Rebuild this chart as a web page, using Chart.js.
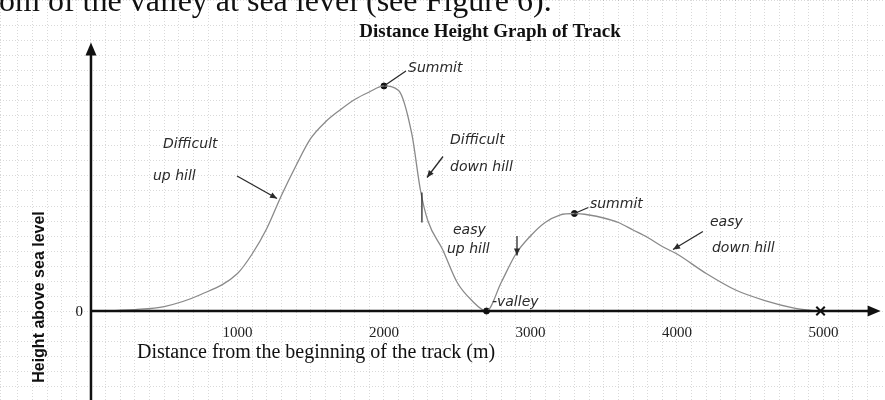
<!DOCTYPE html>
<html>
<head>
<meta charset="utf-8">
<script src="https://cdn.jsdelivr.net/npm/chart.js@4.4.1/dist/chart.umd.min.js"></script>
<style>
  html, body { margin: 0; padding: 0; background: #fff; }
  #wrap { position: relative; width: 885px; height: 400px; }
</style>
</head>
<body>
<div id="wrap"><canvas id="myChart" width="885" height="400"></canvas></div>
<script>
// Datos del perfil (distancia en m, altura)
const distancias = [0, 300, 500, 750, 1000, 1100, 1200, 1300, 1400, 1500, 1600, 1700, 1800, 1900, 2000, 2100, 2190, 2250, 2300, 2400, 2500, 2600, 2700, 2800, 2900, 3000, 3100, 3200, 3300, 3400, 3500, 3600, 3700, 3800, 3900, 4000, 4200, 4400, 4600, 4800, 4950];
const alturas = [0, 1, 3, 11, 25, 38, 55, 77, 97, 115, 126, 134, 141, 146, 150, 147, 118, 80, 60, 41, 19, 7, 0, 19, 38, 50, 59, 64, 65, 64, 62, 59, 54, 49, 43, 38, 25, 14, 7, 2, 0];

// Puntos marcados (cimas y valle)
const puntosX = [2000, 3300, 2700];
const puntosY = [150, 65, 0];
const cruzX = [4980];
const cruzY = [0];

// Etiquetas de los ejes
const etiquetasX = [1000, 2000, 3000, 4000, 5000];
const etiquetasY = [0];

// Rango de los ejes
const rangoX = [-621, 5420];
const rangoY = [-59.3, 207.3];
const finEjeX = 5390;
const finEjeY = 179;

// Notas escritas a mano
const notasTexto = ["Summit", "Difficult", "up hill", "Difficult", "down hill", "easy", "up hill", "summit", "easy", "down hill", "-valley"];
const notasX = [2164, 491, 423, 2451, 2451, 2471, 2430, 3406, 4225, 4239, 2737];
const notasY = [162, 111, 90, 114, 96, 54, 41, 71, 59, 42, 6];

// Flechas [x1, y1, x2, y2]
const flechas = [
  [997, 90, 1270, 75],
  [2403, 103, 2294, 89],
  [2908, 50, 2908, 37],
  [4177, 53, 3973, 41],
];
// Trazos sin punta
const trazos = [
  [2000, 150, 2150, 160],
  [3300, 65, 3395, 69],
  [2259, 79, 2259, 59],
];

const chartDom = document.getElementById("myChart");
let myChart;

function crearPares(xs, ys) {
  return xs.map((x, i) => ({ x, y: ys[i] }));
}

// Quitar el espacio que reservan los ejes
function sinEspacio(scale) {
  if (scale.isHorizontal()) scale.height = 0;
  else scale.width = 0;
  scale.paddingLeft = 0;
  scale.paddingRight = 0;
  scale.paddingTop = 0;
  scale.paddingBottom = 0;
}

function punta(ctx, x1, y1, x2, y2, largo, ancho) {
  const ang = Math.atan2(y2 - y1, x2 - x1);
  ctx.beginPath();
  ctx.moveTo(x2, y2);
  ctx.lineTo(x2 - largo * Math.cos(ang) + ancho * Math.sin(ang), y2 - largo * Math.sin(ang) - ancho * Math.cos(ang));
  ctx.lineTo(x2 - largo * Math.cos(ang) - ancho * Math.sin(ang), y2 - largo * Math.sin(ang) + ancho * Math.cos(ang));
  ctx.closePath();
  ctx.fill();
}

// Plugin: ejes con flechas, textos y notas
const dibujoExtra = {
  id: "dibujoExtra",
  afterDatasetsDraw(chart) {
    const { ctx, scales: { x, y }, chartArea } = chart;
    const x0 = x.getPixelForValue(0);
    const y0 = y.getPixelForValue(0);
    const xTip = x.getPixelForValue(finEjeX);
    const yTip = y.getPixelForValue(finEjeY);

    ctx.save();
    // ejes
    ctx.strokeStyle = "#111";
    ctx.fillStyle = "#111";
    ctx.lineWidth = 2.5;
    ctx.beginPath();
    ctx.moveTo(x0, y0);
    ctx.lineTo(xTip - 6, y0);
    ctx.stroke();
    ctx.beginPath();
    ctx.moveTo(x0, chartArea.bottom);
    ctx.lineTo(x0, yTip + 6);
    ctx.stroke();
    punta(ctx, x0, y0, xTip, y0, 13, 5.5);
    punta(ctx, x0, y0, x0, yTip, 13, 5.5);

    // etiqueta del eje y
    ctx.font = '15px "Liberation Serif"';
    ctx.textAlign = "right";
    ctx.textBaseline = "middle";
    etiquetasY.forEach((v) => ctx.fillText(String(v), x0 - 8, y.getPixelForValue(v) + 1));

    // notas a mano
    ctx.fillStyle = "#2a2a2a";
    ctx.strokeStyle = "#2a2a2a";
    ctx.lineWidth = 1.3;
    ctx.font = 'italic 14px "DejaVu Sans"';
    ctx.textAlign = "left";
    notasTexto.forEach((t, i) => {
      ctx.fillText(t, x.getPixelForValue(notasX[i]), y.getPixelForValue(notasY[i]));
    });
    flechas.forEach(([a, b, c, d]) => {
      const p1 = [x.getPixelForValue(a), y.getPixelForValue(b)];
      const p2 = [x.getPixelForValue(c), y.getPixelForValue(d)];
      ctx.beginPath();
      ctx.moveTo(p1[0], p1[1]);
      ctx.lineTo(p2[0], p2[1]);
      ctx.stroke();
      punta(ctx, p1[0], p1[1], p2[0], p2[1], 7, 3);
    });
    trazos.forEach(([a, b, c, d]) => {
      ctx.beginPath();
      ctx.moveTo(x.getPixelForValue(a), y.getPixelForValue(b));
      ctx.lineTo(x.getPixelForValue(c), y.getPixelForValue(d));
      ctx.stroke();
    });

    // textos impresos
    ctx.fillStyle = "#111";
    ctx.textBaseline = "alphabetic";
    ctx.font = '32px "Liberation Serif"';
    ctx.fillText("om of the valley at sea level (see Figure 6).", -1, 11);
    ctx.textAlign = "center";
    ctx.font = 'bold 19px "Liberation Serif"';
    ctx.fillText("Distance Height Graph of Track", 490, 37);
    ctx.textAlign = "left";
    ctx.font = '20px "Liberation Serif"';
    ctx.fillText("Distance from the beginning of the track (m)", x0 + 46, y0 + 47);
    ctx.translate(40, 297);
    ctx.rotate(-Math.PI / 2);
    ctx.textAlign = "center";
    ctx.textBaseline = "middle";
    ctx.font = 'bold 16px "Liberation Sans"';
    ctx.fillText("Height above sea level", 0, 0);
    ctx.restore();
  },
};

function renderGrafica() {
  const config = {
    type: "line",
    data: {
      datasets: [
        {
          label: "Perfil",
          data: crearPares(distancias, alturas),
          borderColor: "#8a8a8a",
          borderWidth: 1.3,
          pointRadius: 0,
          cubicInterpolationMode: "monotone",
        },
        {
          label: "Puntos",
          data: crearPares(puntosX, puntosY),
          showLine: false,
          pointRadius: 3,
          pointBackgroundColor: "#111",
          pointBorderColor: "#111",
        },
        {
          label: "Fin",
          data: crearPares(cruzX, cruzY),
          showLine: false,
          pointStyle: "crossRot",
          pointRadius: 6,
          pointBorderWidth: 2,
          pointBorderColor: "#111",
        },
      ],
    },
    options: {
      responsive: false,
      animation: false,
      layout: { padding: 0, autoPadding: false },
      plugins: { legend: { display: false }, tooltip: { enabled: false } },
      scales: {
        x: {
          type: "linear",
          min: rangoX[0],
          max: rangoX[1],
          position: { y: 0 },
          afterFit: sinEspacio,
          border: { display: false, dash: [1, 2] },
          grid: { color: "rgba(0,0,0,0.15)", drawTicks: false },
          ticks: {
            stepSize: 100,
            autoSkip: false,
            maxRotation: 0,
            padding: 13,
            color: "#222",
            font: { family: '"Liberation Serif"', size: 15 },
            callback: (v) => (etiquetasX.includes(v) ? String(v) : ""),
          },
        },
        y: {
          type: "linear",
          min: rangoY[0],
          max: rangoY[1],
          position: { x: 0 },
          afterFit: sinEspacio,
          border: { display: false, dash: [1, 2] },
          grid: { color: "rgba(0,0,0,0.15)", drawTicks: false },
          ticks: { stepSize: 10, display: false },
        },
      },
    },
    plugins: [dibujoExtra],
  };
  myChart = new Chart(chartDom, config);
}

renderGrafica();
</script>
</body>
</html>
